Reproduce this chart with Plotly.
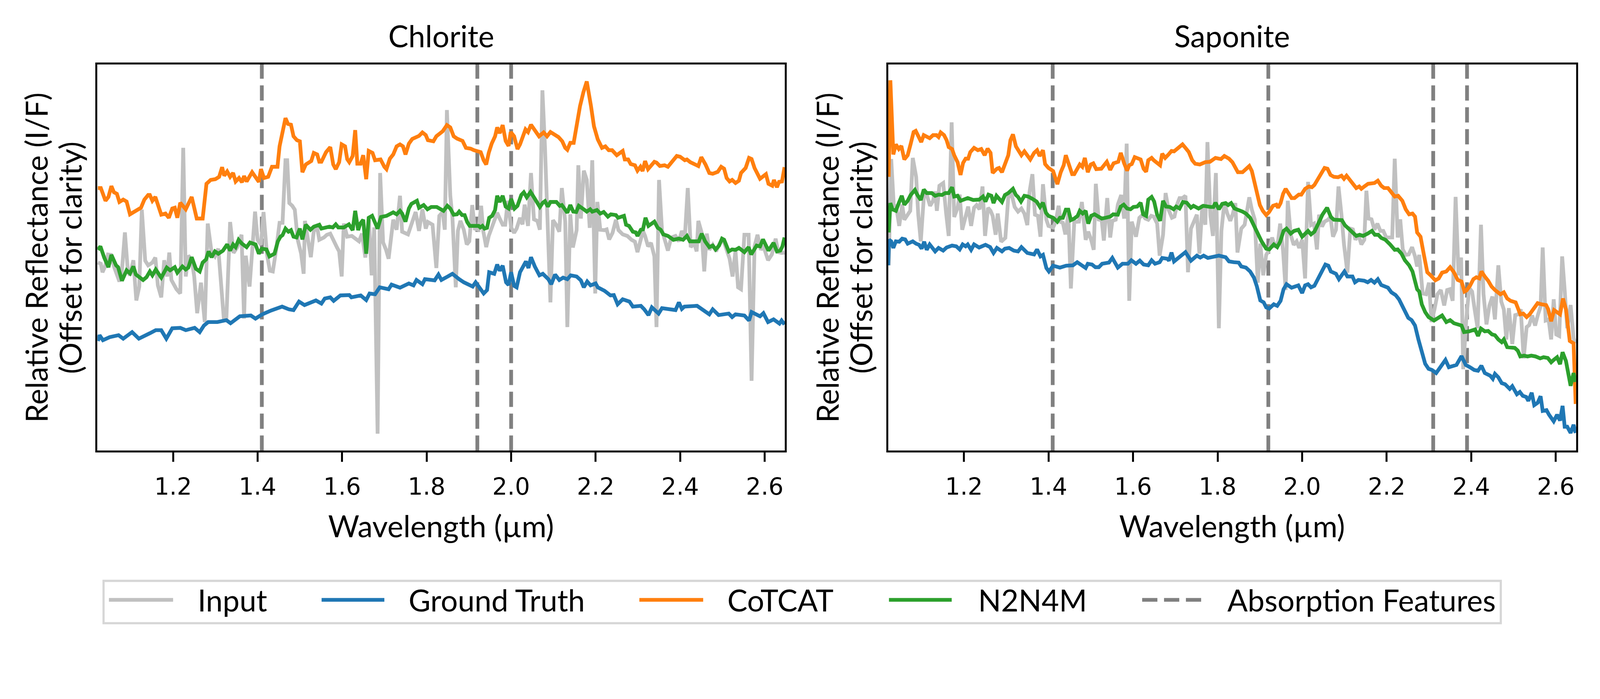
import plotly.graph_objects as go

# Wavelength (um), relative reflectance (offset, arbitrary units 0-100)
cl_input = [(1.022,48.7),(1.029,48.4),(1.033,46.2),(1.039,47.7),(1.046,50.8),(1.053,50.7),(1.061,47.4),(1.067,45.8),(1.073,43.8),(1.079,46.7),(1.086,56.5),(1.093,46.4),(1.098,45.4),(1.106,49.3),(1.113,38.9),(1.12,42.5),(1.126,62.4),(1.134,49.2),(1.141,48.0),(1.151,48.7),(1.158,50.0),(1.164,42.8),(1.172,39.7),(1.179,49.3),(1.186,45.1),(1.191,51.3),(1.196,44.2),(1.208,41.8),(1.217,40.7),(1.224,78.4),(1.23,45.1),(1.236,50.5),(1.244,49.5),(1.25,45.1),(1.257,35.6),(1.266,43.5),(1.275,33.3),(1.282,58.8),(1.291,51.4),(1.299,50.3),(1.307,52.3),(1.32,34.3),(1.326,34.0),(1.335,59.2),(1.343,51.2),(1.352,52.7),(1.362,55.9),(1.368,34.2),(1.372,50.5),(1.381,42.5),(1.394,61.9),(1.4,54.6),(1.408,53.3),(1.414,61.8),(1.422,51.0),(1.429,46.6),(1.436,46.4),(1.444,52.1),(1.452,59.0),(1.459,59.0),(1.466,75.2),(1.47,75.2),(1.475,64.1),(1.482,63.4),(1.488,62.4),(1.495,54.6),(1.503,51.0),(1.509,45.8),(1.512,59.5),(1.526,50.1),(1.533,56.9),(1.541,57.8),(1.546,54.6),(1.557,55.2),(1.564,55.9),(1.572,56.2),(1.58,54.2),(1.588,52.6),(1.593,51.6),(1.599,45.1),(1.604,58.8),(1.612,55.4),(1.623,55.6),(1.633,54.6),(1.64,54.2),(1.647,56.2),(1.655,50.0),(1.663,60.5),(1.67,45.4),(1.676,57.8),(1.684,4.4),(1.69,71.9),(1.697,53.9),(1.704,52.0),(1.71,49.7),(1.721,59.8),(1.729,57.2),(1.737,66.0),(1.742,56.7),(1.756,56.0),(1.764,58.5),(1.774,61.8),(1.782,56.9),(1.79,62.5),(1.798,57.5),(1.803,59.2),(1.814,58.5),(1.823,47.3),(1.83,60.8),(1.838,61.8),(1.843,57.2),(1.848,88.2),(1.856,66.0),(1.861,60.5),(1.869,42.3),(1.874,56.9),(1.88,59.5),(1.888,57.2),(1.895,53.4),(1.901,54.2),(1.908,63.6),(1.914,57.5),(1.923,57.2),(1.929,63.4),(1.934,56.9),(1.941,52.7),(1.947,55.6),(1.957,58.8),(1.967,61.6),(1.973,60.1),(1.98,58.5),(1.986,58.5),(1.992,64.7),(2.0,57.8),(2.007,56.4),(2.013,57.5),(2.021,60.3),(2.027,58.6),(2.032,63.7),(2.04,58.2),(2.047,71.9),(2.054,59.9),(2.062,59.5),(2.068,57.2),(2.074,93.3),(2.08,78.8),(2.087,60.1),(2.093,38.4),(2.099,59.7),(2.107,58.4),(2.114,56.7),(2.12,68.0),(2.128,59.3),(2.133,32.0),(2.14,61.2),(2.146,52.6),(2.155,57.1),(2.159,73.9),(2.165,60.1),(2.172,72.5),(2.179,70.1),(2.186,57.7),(2.192,75.2),(2.199,40.7),(2.204,64.4),(2.211,57.2),(2.221,57.1),(2.226,57.3),(2.232,54.7),(2.24,56.4),(2.248,59.8),(2.254,57.1),(2.264,56.0),(2.275,55.6),(2.285,54.6),(2.293,54.1),(2.299,51.4),(2.304,53.4),(2.312,56.9),(2.317,55.6),(2.324,52.9),(2.331,53.8),(2.339,50.3),(2.344,32.0),(2.35,70.1),(2.357,57.1),(2.371,51.8),(2.379,55.2),(2.389,55.6),(2.397,54.2),(2.404,56.9),(2.411,55.2),(2.418,68.0),(2.425,52.7),(2.433,53.8),(2.439,51.6),(2.443,59.5),(2.451,56.4),(2.457,46.4),(2.463,56.2),(2.469,52.0),(2.477,53.3),(2.485,51.6),(2.492,53.3),(2.501,54.9),(2.51,52.0),(2.517,49.7),(2.524,45.1),(2.531,51.8),(2.537,42.3),(2.544,41.8),(2.552,55.9),(2.562,55.9),(2.569,18.1),(2.576,52.9),(2.583,55.9),(2.591,52.0),(2.597,53.0),(2.608,49.3),(2.617,50.8),(2.626,54.9),(2.632,51.4),(2.64,51.2),(2.647,51.3)]

cl_truth = [(1.022,28.4),(1.026,29.9),(1.034,28.6),(1.05,29.4),(1.071,29.9),(1.082,29.0),(1.103,30.7),(1.119,29.0),(1.145,30.4),(1.159,31.2),(1.172,31.2),(1.184,29.0),(1.198,31.7),(1.217,31.8),(1.23,31.2),(1.251,31.8),(1.263,30.7),(1.273,32.4),(1.283,33.3),(1.305,33.3),(1.326,33.8),(1.336,33.0),(1.358,34.8),(1.384,35.0),(1.395,34.2),(1.411,35.3),(1.432,36.3),(1.458,37.3),(1.474,36.6),(1.485,36.4),(1.498,38.6),(1.511,37.7),(1.538,38.9),(1.551,38.1),(1.559,39.4),(1.572,39.7),(1.58,38.8),(1.596,40.2),(1.617,40.3),(1.622,39.7),(1.644,40.2),(1.657,39.0),(1.665,40.7),(1.678,40.5),(1.689,42.3),(1.71,41.8),(1.717,43.0),(1.737,42.2),(1.758,43.3),(1.769,42.8),(1.776,44.2),(1.79,43.1),(1.796,44.4),(1.819,44.1),(1.828,45.6),(1.835,44.2),(1.85,45.1),(1.861,45.8),(1.877,44.4),(1.888,43.6),(1.909,42.5),(1.916,43.6),(1.935,40.7),(1.943,41.6),(1.948,46.2),(1.96,45.8),(1.967,48.2),(1.973,46.6),(1.98,47.9),(1.988,43.6),(1.994,42.9),(2.0,46.2),(2.007,42.7),(2.013,42.3),(2.021,46.2),(2.035,49.0),(2.041,47.3),(2.047,50.1),(2.056,47.7),(2.067,45.4),(2.075,45.8),(2.088,44.4),(2.095,43.1),(2.104,45.6),(2.114,44.2),(2.123,44.8),(2.133,44.4),(2.141,45.4),(2.155,45.1),(2.165,44.1),(2.172,42.3),(2.18,43.8),(2.188,42.8),(2.2,43.3),(2.205,42.3),(2.221,41.4),(2.235,40.2),(2.243,40.3),(2.252,37.9),(2.264,39.2),(2.28,38.6),(2.288,37.3),(2.307,37.5),(2.315,36.6),(2.325,35.1),(2.333,37.1),(2.349,35.5),(2.357,36.9),(2.389,36.4),(2.397,38.4),(2.404,36.7),(2.41,37.3),(2.44,37.5),(2.456,36.3),(2.469,35.3),(2.477,36.6),(2.491,35.1),(2.515,35.5),(2.523,34.6),(2.531,35.3),(2.552,35.0),(2.563,33.7),(2.569,35.9),(2.589,34.8),(2.597,35.6),(2.608,33.3),(2.621,34.0),(2.635,32.9),(2.64,33.7),(2.647,32.7)]

cl_cotcat = [(1.022,68.0),(1.029,68.0),(1.04,64.7),(1.047,65.7),(1.054,68.5),(1.06,66.9),(1.067,66.5),(1.073,64.4),(1.082,65.0),(1.09,64.5),(1.098,61.2),(1.106,61.8),(1.124,62.9),(1.132,65.0),(1.141,66.2),(1.145,66.2),(1.151,64.7),(1.158,65.7),(1.172,61.1),(1.182,61.4),(1.19,60.3),(1.198,62.7),(1.204,62.9),(1.21,60.3),(1.217,64.2),(1.23,62.5),(1.244,65.7),(1.256,60.1),(1.27,60.1),(1.279,69.1),(1.289,70.1),(1.3,70.3),(1.309,70.9),(1.316,73.4),(1.321,71.2),(1.328,72.3),(1.335,70.9),(1.342,71.9),(1.348,69.7),(1.356,70.6),(1.363,69.5),(1.368,71.1),(1.374,69.7),(1.387,72.1),(1.403,69.6),(1.408,72.9),(1.415,70.6),(1.425,70.9),(1.434,73.5),(1.447,73.5),(1.452,78.8),(1.466,86.1),(1.472,84.6),(1.479,84.4),(1.485,81.4),(1.493,80.4),(1.5,80.1),(1.506,72.1),(1.514,74.1),(1.527,75.0),(1.533,77.1),(1.541,76.7),(1.546,74.8),(1.551,74.8),(1.562,77.3),(1.572,78.6),(1.579,74.1),(1.585,72.9),(1.593,74.7),(1.599,79.3),(1.607,78.8),(1.612,75.5),(1.617,74.7),(1.625,76.3),(1.631,83.0),(1.636,74.3),(1.644,74.3),(1.65,76.5),(1.657,70.3),(1.663,77.6),(1.672,77.1),(1.678,75.2),(1.691,75.4),(1.7,73.5),(1.705,72.9),(1.713,75.6),(1.721,76.7),(1.729,78.8),(1.737,79.3),(1.744,78.8),(1.75,76.7),(1.758,79.5),(1.766,80.7),(1.782,81.5),(1.79,82.4),(1.798,81.7),(1.803,80.4),(1.816,80.1),(1.823,81.4),(1.838,82.7),(1.848,84.3),(1.856,83.7),(1.864,81.4),(1.872,80.8),(1.885,80.2),(1.893,78.4),(1.904,78.2),(1.912,77.8),(1.928,77.3),(1.935,75.2),(1.941,74.1),(1.947,77.1),(1.954,79.5),(1.962,81.4),(1.967,83.7),(1.973,82.2),(1.98,84.3),(1.987,80.2),(1.994,78.9),(1.999,82.5),(2.007,81.4),(2.015,78.1),(2.021,79.3),(2.034,83.2),(2.04,82.5),(2.047,84.4),(2.054,83.2),(2.059,82.7),(2.066,81.4),(2.077,82.4),(2.085,81.4),(2.093,82.5),(2.104,81.8),(2.112,81.2),(2.121,80.1),(2.128,78.4),(2.133,77.9),(2.14,79.7),(2.148,79.7),(2.156,85.3),(2.163,89.2),(2.171,92.8),(2.179,95.6),(2.189,89.2),(2.196,84.0),(2.205,80.6),(2.215,78.4),(2.223,78.8),(2.231,77.8),(2.239,77.8),(2.25,76.5),(2.264,77.6),(2.269,75.4),(2.277,75.4),(2.283,74.2),(2.293,73.9),(2.299,72.5),(2.306,73.5),(2.311,72.4),(2.317,75.0),(2.324,72.9),(2.339,74.8),(2.344,74.6),(2.352,73.7),(2.363,73.9),(2.371,73.5),(2.381,74.8),(2.392,76.3),(2.4,76.1),(2.411,75.2),(2.416,75.4),(2.424,74.7),(2.443,73.7),(2.45,76.0),(2.46,74.1),(2.469,71.9),(2.477,71.7),(2.489,72.2),(2.497,73.5),(2.504,73.0),(2.51,70.6),(2.517,69.7),(2.523,70.1),(2.531,69.3),(2.539,69.9),(2.544,71.9),(2.555,73.2),(2.563,75.8),(2.569,75.5),(2.576,73.2),(2.589,70.4),(2.603,71.6),(2.609,69.1),(2.618,68.6),(2.622,70.1),(2.629,68.2),(2.634,69.6),(2.641,69.7),(2.647,73.4)]

cl_n2n4m = [(1.022,52.0),(1.028,52.9),(1.037,50.0),(1.047,47.5),(1.054,50.7),(1.065,48.0),(1.07,47.5),(1.079,44.0),(1.09,46.7),(1.098,45.9),(1.106,47.7),(1.112,45.6),(1.129,44.2),(1.137,44.9),(1.145,46.4),(1.151,45.4),(1.159,46.9),(1.172,44.8),(1.185,47.4),(1.193,46.7),(1.204,47.5),(1.21,46.1),(1.222,47.7),(1.23,46.9),(1.236,47.4),(1.244,50.1),(1.254,47.1),(1.263,46.4),(1.27,48.7),(1.278,49.5),(1.284,51.6),(1.291,50.1),(1.299,51.6),(1.307,51.0),(1.318,51.8),(1.328,53.4),(1.335,51.8),(1.342,53.4),(1.348,52.7),(1.355,54.6),(1.363,53.6),(1.374,52.7),(1.382,53.9),(1.395,53.4),(1.403,51.0),(1.41,52.3),(1.421,52.1),(1.428,50.3),(1.44,51.0),(1.448,54.2),(1.454,55.4),(1.459,55.8),(1.466,57.5),(1.473,56.7),(1.479,57.1),(1.485,55.4),(1.492,55.2),(1.5,57.5),(1.506,54.7),(1.514,58.5),(1.525,57.2),(1.533,58.0),(1.546,58.5),(1.551,57.5),(1.57,58.0),(1.578,57.8),(1.585,58.6),(1.591,57.8),(1.604,57.8),(1.616,58.6),(1.625,57.1),(1.631,62.1),(1.638,57.1),(1.643,58.8),(1.65,59.8),(1.657,51.0),(1.663,60.3),(1.671,60.8),(1.684,57.5),(1.692,60.5),(1.705,60.8),(1.712,61.2),(1.721,61.7),(1.729,61.2),(1.737,62.1),(1.742,61.4),(1.75,59.3),(1.758,62.7),(1.764,63.9),(1.777,64.7),(1.782,62.9),(1.793,63.6),(1.802,62.5),(1.811,63.1),(1.824,63.1),(1.84,62.1),(1.849,63.4),(1.856,62.7),(1.864,61.1),(1.872,61.2),(1.877,61.9),(1.884,61.0),(1.89,61.0),(1.896,59.2),(1.902,58.2),(1.923,58.2),(1.927,57.8),(1.932,58.2),(1.937,57.5),(1.943,57.7),(1.948,60.3),(1.955,60.8),(1.962,62.3),(1.967,66.0),(1.973,64.4),(1.98,66.0),(1.987,63.2),(1.994,62.7),(2.0,65.2),(2.008,62.7),(2.015,63.4),(2.024,66.2),(2.03,66.9),(2.037,65.6),(2.046,67.0),(2.054,65.6),(2.062,64.2),(2.068,63.1),(2.075,64.2),(2.08,64.6),(2.087,63.2),(2.093,64.4),(2.107,64.4),(2.115,63.4),(2.12,63.6),(2.128,62.3),(2.133,61.6),(2.14,63.6),(2.147,61.9),(2.154,61.8),(2.16,63.4),(2.173,62.4),(2.179,61.9),(2.187,62.5),(2.192,61.9),(2.203,62.3),(2.211,61.4),(2.219,61.8),(2.229,60.6),(2.236,61.2),(2.248,61.0),(2.253,60.3),(2.267,60.8),(2.272,58.5),(2.279,58.2),(2.288,56.7),(2.295,56.5),(2.299,55.6),(2.307,57.2),(2.312,57.3),(2.318,60.3),(2.325,58.2),(2.339,59.3),(2.347,57.7),(2.354,57.2),(2.36,56.0),(2.371,55.6),(2.384,54.6),(2.397,54.9),(2.407,54.6),(2.416,55.6),(2.423,54.2),(2.444,54.2),(2.451,56.2),(2.459,54.2),(2.469,52.7),(2.477,53.1),(2.484,52.1),(2.492,53.1),(2.499,54.9),(2.504,54.6),(2.515,51.6),(2.523,52.1),(2.531,52.0),(2.539,52.5),(2.552,51.4),(2.562,52.7),(2.568,50.8),(2.581,53.1),(2.589,52.9),(2.596,54.7),(2.609,51.8),(2.621,53.8),(2.629,51.6),(2.637,51.8),(2.642,52.9),(2.647,55.2)]

sp_input = [(1.022,48.0),(1.028,75.5),(1.034,63.7),(1.04,63.1),(1.047,58.2),(1.054,63.7),(1.059,59.8),(1.067,61.4),(1.073,62.1),(1.079,75.8),(1.087,70.9),(1.092,61.1),(1.098,54.2),(1.106,67.0),(1.112,66.3),(1.12,63.4),(1.127,64.7),(1.132,67.1),(1.136,62.1),(1.142,68.6),(1.151,69.3),(1.158,61.4),(1.164,55.6),(1.171,85.0),(1.177,60.5),(1.185,62.9),(1.19,66.3),(1.196,57.2),(1.204,60.8),(1.21,63.2),(1.217,58.2),(1.224,62.9),(1.23,63.6),(1.237,62.5),(1.244,68.4),(1.25,55.6),(1.257,62.9),(1.263,62.1),(1.268,60.8),(1.275,55.9),(1.28,61.4),(1.288,54.1),(1.298,55.1),(1.305,65.7),(1.313,66.3),(1.32,63.1),(1.328,61.9),(1.336,62.7),(1.343,61.4),(1.35,58.4),(1.355,66.9),(1.362,71.6),(1.368,61.1),(1.375,60.8),(1.381,55.4),(1.387,69.0),(1.395,59.8),(1.4,58.2),(1.411,57.8),(1.417,59.2),(1.424,63.4),(1.429,59.2),(1.434,59.0),(1.44,56.0),(1.447,61.4),(1.453,42.0),(1.461,59.2),(1.472,59.3),(1.479,64.4),(1.488,54.6),(1.494,56.7),(1.501,54.6),(1.507,52.0),(1.512,69.1),(1.519,59.5),(1.525,60.6),(1.531,54.4),(1.539,65.4),(1.546,55.2),(1.551,59.5),(1.559,59.8),(1.564,63.7),(1.572,66.2),(1.579,60.1),(1.585,79.5),(1.591,38.8),(1.597,59.3),(1.607,55.4),(1.615,60.3),(1.623,61.1),(1.629,60.1),(1.636,59.8),(1.643,60.8),(1.649,60.6),(1.657,58.8),(1.663,50.5),(1.671,55.9),(1.677,66.7),(1.684,62.4),(1.692,60.3),(1.698,60.6),(1.704,63.7),(1.71,65.4),(1.717,65.4),(1.724,66.0),(1.73,46.2),(1.737,57.5),(1.744,59.5),(1.751,61.1),(1.757,51.0),(1.764,63.7),(1.771,58.5),(1.776,79.9),(1.783,60.8),(1.789,55.6),(1.796,71.9),(1.803,31.7),(1.809,56.9),(1.816,64.2),(1.823,61.4),(1.83,59.5),(1.836,61.3),(1.842,64.1),(1.847,51.3),(1.856,57.5),(1.864,58.5),(1.875,65.6),(1.881,62.4),(1.888,59.8),(1.895,43.5),(1.901,53.6),(1.908,45.4),(1.915,50.7),(1.922,52.0),(1.929,55.2),(1.936,52.6),(1.943,54.2),(1.948,58.8),(1.955,51.6),(1.961,41.6),(1.966,64.7),(1.973,55.9),(1.98,53.3),(1.987,54.2),(1.993,52.5),(2.0,54.6),(2.007,44.6),(2.014,69.6),(2.021,58.4),(2.028,58.8),(2.035,52.1),(2.04,61.1),(2.047,58.0),(2.053,59.3),(2.06,59.7),(2.067,60.5),(2.073,55.4),(2.08,57.2),(2.086,68.4),(2.093,61.1),(2.099,53.4),(2.107,46.1),(2.114,57.5),(2.12,57.3),(2.126,54.6),(2.133,56.0),(2.14,53.4),(2.147,54.6),(2.152,67.3),(2.157,60.1),(2.164,59.9),(2.171,57.2),(2.178,58.8),(2.185,56.9),(2.192,56.9),(2.199,55.2),(2.206,55.1),(2.213,55.2),(2.219,75.6),(2.226,55.2),(2.232,59.9),(2.238,52.1),(2.245,50.7),(2.252,50.8),(2.26,52.7),(2.267,50.3),(2.272,47.7),(2.277,50.7),(2.285,40.7),(2.293,40.5),(2.3,43.5),(2.306,33.3),(2.313,36.6),(2.32,40.5),(2.328,41.6),(2.336,37.6),(2.343,41.6),(2.349,41.8),(2.356,38.8),(2.363,65.7),(2.37,45.4),(2.376,50.0),(2.381,21.1),(2.388,33.7),(2.395,42.2),(2.402,41.2),(2.408,36.6),(2.415,31.7),(2.423,58.5),(2.429,40.5),(2.436,32.7),(2.443,37.6),(2.45,39.9),(2.456,34.0),(2.464,48.0),(2.471,38.6),(2.477,36.6),(2.483,28.8),(2.489,36.9),(2.497,27.6),(2.504,35.1),(2.511,35.3),(2.517,36.6),(2.524,23.9),(2.531,32.0),(2.537,32.5),(2.544,35.0),(2.551,32.4),(2.558,35.3),(2.564,37.3),(2.569,52.6),(2.576,33.7),(2.583,34.0),(2.589,28.8),(2.595,39.2),(2.601,30.1),(2.608,29.7),(2.615,50.3),(2.621,41.5),(2.627,31.7),(2.635,37.7),(2.642,29.1),(2.647,27.8)]

sp_truth = [(1.021,48.0),(1.023,54.6),(1.028,54.2),(1.033,52.5),(1.039,54.2),(1.047,54.1),(1.054,54.9),(1.061,54.7),(1.067,53.6),(1.079,54.2),(1.087,53.6),(1.094,53.3),(1.1,52.3),(1.106,54.1),(1.112,52.0),(1.119,53.4),(1.132,51.6),(1.14,52.5),(1.151,51.8),(1.159,52.6),(1.172,53.1),(1.182,52.9),(1.19,52.1),(1.197,53.4),(1.204,52.9),(1.209,53.4),(1.217,52.0),(1.224,53.4),(1.236,52.6),(1.251,53.3),(1.262,52.7),(1.27,51.2),(1.278,52.5),(1.29,51.6),(1.297,52.3),(1.307,52.5),(1.318,51.8),(1.328,51.6),(1.336,52.7),(1.35,51.2),(1.366,50.8),(1.373,52.1),(1.381,50.3),(1.387,50.7),(1.395,47.3),(1.401,46.4),(1.411,47.9),(1.427,47.4),(1.442,47.9),(1.458,48.0),(1.468,48.8),(1.482,47.7),(1.488,47.3),(1.493,48.4),(1.503,48.2),(1.511,47.5),(1.519,47.5),(1.527,48.4),(1.543,48.7),(1.551,49.9),(1.564,47.4),(1.575,48.4),(1.588,48.4),(1.596,49.3),(1.607,48.4),(1.616,49.2),(1.625,48.2),(1.636,48.0),(1.644,49.3),(1.652,48.4),(1.663,48.8),(1.669,49.9),(1.681,49.7),(1.685,49.2),(1.691,51.3),(1.697,49.0),(1.708,50.0),(1.716,50.8),(1.724,51.4),(1.737,49.2),(1.751,50.5),(1.759,50.0),(1.767,50.5),(1.777,49.9),(1.803,50.5),(1.819,50.1),(1.827,49.0),(1.838,48.8),(1.85,48.7),(1.856,47.7),(1.867,47.4),(1.877,46.4),(1.886,44.8),(1.893,42.5),(1.901,38.9),(1.909,38.4),(1.915,37.1),(1.922,36.8),(1.933,37.9),(1.941,37.5),(1.949,38.8),(1.956,41.8),(1.963,43.1),(1.975,42.2),(1.991,42.8),(2.0,40.8),(2.007,42.8),(2.014,43.1),(2.021,42.3),(2.029,42.7),(2.036,44.1),(2.045,45.8),(2.055,48.2),(2.062,47.9),(2.068,46.4),(2.08,45.8),(2.087,44.4),(2.1,46.4),(2.107,45.1),(2.119,45.1),(2.125,43.6),(2.133,44.2),(2.147,44.0),(2.155,43.6),(2.163,44.2),(2.171,43.5),(2.179,44.4),(2.187,42.9),(2.195,42.5),(2.203,42.2),(2.211,41.0),(2.221,40.3),(2.229,39.2),(2.237,37.5),(2.244,35.5),(2.251,34.4),(2.259,33.8),(2.267,32.4),(2.275,28.8),(2.283,25.2),(2.291,22.5),(2.299,21.2),(2.307,20.9),(2.317,20.1),(2.328,21.9),(2.339,23.5),(2.347,21.6),(2.355,21.9),(2.365,22.2),(2.377,24.5),(2.387,22.2),(2.397,21.6),(2.407,20.9),(2.416,20.7),(2.424,22.0),(2.432,20.1),(2.445,19.4),(2.451,18.6),(2.456,19.9),(2.464,19.0),(2.472,17.5),(2.48,17.2),(2.491,16.0),(2.497,16.7),(2.508,14.6),(2.515,15.2),(2.522,14.2),(2.53,13.9),(2.535,12.9),(2.543,15.0),(2.549,11.8),(2.557,12.4),(2.564,14.1),(2.569,10.3),(2.578,10.5),(2.584,9.3),(2.595,7.6),(2.603,9.3),(2.61,7.8),(2.616,11.6),(2.621,6.2),(2.627,6.2),(2.635,4.6),(2.642,6.7),(2.647,4.6)]

sp_cotcat = [(1.022,70.9),(1.026,95.9),(1.033,76.7),(1.039,79.3),(1.046,78.1),(1.052,78.9),(1.059,75.4),(1.067,76.5),(1.074,79.4),(1.081,82.5),(1.086,82.8),(1.092,81.5),(1.099,79.9),(1.105,81.7),(1.114,81.0),(1.119,80.9),(1.127,81.7),(1.135,81.7),(1.14,81.2),(1.145,82.4),(1.153,81.7),(1.159,80.4),(1.164,78.6),(1.172,78.1),(1.177,76.5),(1.185,74.7),(1.192,71.4),(1.198,74.5),(1.204,75.6),(1.21,75.6),(1.215,77.3),(1.224,78.4),(1.233,77.8),(1.241,78.1),(1.249,76.5),(1.256,78.2),(1.263,77.1),(1.268,71.9),(1.278,73.0),(1.283,73.2),(1.29,72.1),(1.297,73.9),(1.305,76.5),(1.31,80.4),(1.316,81.9),(1.323,78.8),(1.33,77.5),(1.336,76.5),(1.343,77.5),(1.35,76.3),(1.357,75.4),(1.366,77.1),(1.373,77.8),(1.379,76.3),(1.387,77.8),(1.392,74.2),(1.4,73.2),(1.411,72.4),(1.421,69.0),(1.429,72.1),(1.436,73.9),(1.441,76.5),(1.449,73.5),(1.456,71.6),(1.461,71.6),(1.469,72.9),(1.474,74.1),(1.48,73.5),(1.486,75.8),(1.493,72.1),(1.5,74.1),(1.506,74.4),(1.513,72.9),(1.525,73.0),(1.53,73.7),(1.538,74.8),(1.546,72.7),(1.554,74.4),(1.565,74.8),(1.571,77.1),(1.579,74.4),(1.586,72.5),(1.591,73.9),(1.597,74.2),(1.604,76.0),(1.611,75.6),(1.618,75.4),(1.625,73.0),(1.631,72.2),(1.636,75.2),(1.644,75.8),(1.649,75.2),(1.657,74.5),(1.664,73.9),(1.669,76.9),(1.676,75.8),(1.684,76.7),(1.691,77.6),(1.697,77.5),(1.705,78.2),(1.717,79.3),(1.724,78.4),(1.732,77.3),(1.74,75.2),(1.747,74.3),(1.758,74.1),(1.771,74.7),(1.782,74.8),(1.787,75.2),(1.795,75.8),(1.808,75.5),(1.816,76.3),(1.827,75.6),(1.835,74.7),(1.848,72.1),(1.859,72.1),(1.867,72.9),(1.875,73.7),(1.881,72.4),(1.888,69.1),(1.895,66.0),(1.9,63.6),(1.907,62.1),(1.915,61.0),(1.922,61.8),(1.931,63.4),(1.939,63.7),(1.943,62.9),(1.949,64.1),(1.955,66.5),(1.961,67.8),(1.968,66.7),(1.975,65.4),(1.982,65.4),(1.992,66.3),(1.998,66.3),(2.007,67.8),(2.016,68.4),(2.023,68.2),(2.029,68.8),(2.036,70.1),(2.042,70.9),(2.049,72.5),(2.053,73.2),(2.06,73.0),(2.067,71.4),(2.075,70.9),(2.085,70.8),(2.093,71.2),(2.099,70.4),(2.105,71.2),(2.112,70.1),(2.119,69.1),(2.128,68.0),(2.135,68.4),(2.14,67.8),(2.147,68.4),(2.156,69.1),(2.171,69.3),(2.179,69.9),(2.187,68.6),(2.194,68.0),(2.203,68.0),(2.211,67.0),(2.219,65.8),(2.227,66.0),(2.237,64.7),(2.245,62.5),(2.253,61.2),(2.261,61.4),(2.267,60.6),(2.272,56.5),(2.28,55.4),(2.288,50.7),(2.296,46.2),(2.304,45.4),(2.315,44.1),(2.323,44.6),(2.331,46.1),(2.341,46.4),(2.35,47.5),(2.359,46.2),(2.368,44.2),(2.377,43.8),(2.384,41.2),(2.389,41.5),(2.397,42.7),(2.405,44.4),(2.412,44.9),(2.419,44.6),(2.424,46.4),(2.432,45.1),(2.44,44.0),(2.448,42.5),(2.456,41.6),(2.469,40.5),(2.477,41.0),(2.485,39.4),(2.493,38.8),(2.505,38.4),(2.511,36.8),(2.516,35.3),(2.523,35.5),(2.531,34.6),(2.538,35.3),(2.547,36.6),(2.557,38.2),(2.566,37.9),(2.577,37.7),(2.582,36.6),(2.589,33.5),(2.596,36.4),(2.603,35.8),(2.61,35.3),(2.617,39.4),(2.624,36.6),(2.633,28.4),(2.642,27.8),(2.647,12.1)]

sp_n2n4m = [(1.022,56.5),(1.026,64.1),(1.031,62.5),(1.039,62.1),(1.046,64.1),(1.053,66.0),(1.059,63.7),(1.067,64.7),(1.074,66.2),(1.084,67.5),(1.09,66.2),(1.098,64.9),(1.105,67.6),(1.112,66.7),(1.124,66.7),(1.132,66.0),(1.14,66.3),(1.148,66.2),(1.156,66.7),(1.164,66.7),(1.172,68.2),(1.177,65.8),(1.185,66.0),(1.192,64.7),(1.209,65.4),(1.222,64.9),(1.236,65.0),(1.245,65.8),(1.251,64.5),(1.258,66.3),(1.265,66.0),(1.27,64.1),(1.277,66.0),(1.283,65.4),(1.29,64.4),(1.297,66.2),(1.305,66.7),(1.316,67.8),(1.323,66.2),(1.328,65.7),(1.335,64.5),(1.343,66.0),(1.352,65.8),(1.362,65.2),(1.372,64.5),(1.38,63.1),(1.387,64.2),(1.394,61.6),(1.4,60.8),(1.411,60.3),(1.421,59.3),(1.427,60.3),(1.434,60.3),(1.441,62.4),(1.447,62.4),(1.453,59.7),(1.461,60.1),(1.469,60.8),(1.474,62.1),(1.481,61.4),(1.488,62.1),(1.494,58.8),(1.501,60.8),(1.509,61.2),(1.517,60.8),(1.526,60.1),(1.535,60.3),(1.546,60.6),(1.553,61.2),(1.559,61.1),(1.564,61.1),(1.571,63.2),(1.578,63.7),(1.586,62.7),(1.594,62.5),(1.601,63.1),(1.61,63.2),(1.618,64.2),(1.624,61.2),(1.631,60.8),(1.636,65.0),(1.644,65.7),(1.65,64.5),(1.657,61.1),(1.664,59.5),(1.671,64.7),(1.678,63.2),(1.687,63.1),(1.696,62.5),(1.702,63.2),(1.71,62.7),(1.718,64.4),(1.727,64.2),(1.737,62.9),(1.743,63.4),(1.755,62.7),(1.766,63.4),(1.784,63.1),(1.79,63.1),(1.795,64.2),(1.803,62.5),(1.811,63.9),(1.819,64.1),(1.825,63.6),(1.832,64.1),(1.84,62.7),(1.848,62.4),(1.859,61.9),(1.867,61.4),(1.877,60.3),(1.885,58.5),(1.896,56.0),(1.904,54.2),(1.915,52.3),(1.922,52.1),(1.933,53.4),(1.941,52.7),(1.948,54.1),(1.956,56.9),(1.963,57.5),(1.973,56.2),(1.981,56.9),(1.991,57.2),(2.0,55.4),(2.008,56.2),(2.014,56.9),(2.021,56.0),(2.029,56.7),(2.037,58.5),(2.048,61.1),(2.059,62.9),(2.068,60.5),(2.075,59.8),(2.085,59.7),(2.094,59.7),(2.101,58.4),(2.115,57.1),(2.128,55.6),(2.136,55.9),(2.144,55.6),(2.155,56.2),(2.165,56.9),(2.172,55.9),(2.18,55.9),(2.187,55.1),(2.197,54.6),(2.208,53.4),(2.219,52.0),(2.226,52.1),(2.235,51.0),(2.243,49.3),(2.253,48.0),(2.261,46.4),(2.267,44.2),(2.272,41.8),(2.277,41.2),(2.283,37.9),(2.291,35.9),(2.299,34.6),(2.312,33.7),(2.323,34.3),(2.331,35.0),(2.341,33.3),(2.35,33.8),(2.359,33.0),(2.371,32.5),(2.377,32.4),(2.383,30.7),(2.395,30.9),(2.409,31.4),(2.416,29.7),(2.423,31.6),(2.432,30.9),(2.44,31.0),(2.449,30.1),(2.456,29.9),(2.464,28.8),(2.472,28.1),(2.477,28.8),(2.485,26.8),(2.493,26.6),(2.503,26.6),(2.51,25.9),(2.516,24.4),(2.525,24.6),(2.533,24.4),(2.542,24.6),(2.552,24.4),(2.563,23.9),(2.571,24.2),(2.581,24.0),(2.589,22.9),(2.595,23.5),(2.603,24.2),(2.61,22.4),(2.616,25.5),(2.624,23.2),(2.629,19.9),(2.635,16.8),(2.642,20.1),(2.647,17.8)]

# absorption features (um)
cl_features = [1.41, 1.92, 2.00]
sp_features = [1.41, 1.92, 2.31, 2.39]

panel_titles = ['Chlorite', 'Saponite']
tick_vals = [1.2, 1.4, 1.6, 1.8, 2.0, 2.2, 2.4, 2.6]
tick_text = ['1.2', '1.4', '1.6', '1.8', '2.0', '2.2', '2.4', '2.6']
legend_names = ['Input', 'Ground Truth', 'CoTCAT', 'N2N4M', 'Absorption Features']

colors = {'Input': '#c0c0c0', 'Ground Truth': '#1f77b4', 'CoTCAT': '#ff7f0e',
          'N2N4M': '#2ca02c', 'Absorption Features': '#808080'}

# positions are given on the reference's 4445x1789 pixel grid; the page is drawn
# about 1.09x larger than its css size, so sizes in px are scaled down by S
W, H = 4445, 1789
S = 0.918
FONT = 'Lato'
LW = 10.5 * S
DASH = '%dpx,%dpx' % (round(42 * S), round(19 * S))


def px(x):
    return x / W


def py(y):
    return 1 - y / H


panels = [
    dict(xa='x', ya='y', feats=cl_features,
         series=[('Input', cl_input), ('Ground Truth', cl_truth), ('CoTCAT', cl_cotcat), ('N2N4M', cl_n2n4m)],
         left=263, right=2180),
    dict(xa='x2', ya='y2', feats=sp_features,
         series=[('Input', sp_input), ('Ground Truth', sp_truth), ('CoTCAT', sp_cotcat), ('N2N4M', sp_n2n4m)],
         left=2468, right=4386),
]
top, bottom = 171, 1248

fig = go.Figure()

for p in panels:
    for f in p['feats']:
        fig.add_trace(go.Scatter(x=[f, f], y=[0, 100], mode='lines', xaxis=p['xa'], yaxis=p['ya'],
                                 line=dict(color=colors['Absorption Features'], width=LW, dash=DASH),
                                 showlegend=False, hoverinfo='skip'))
    for name, pts in p['series']:
        fig.add_trace(go.Scatter(x=[a for a, b in pts], y=[b for a, b in pts], mode='lines',
                                 xaxis=p['xa'], yaxis=p['ya'], name=name,
                                 line=dict(color=colors[name], width=LW), showlegend=False))

axis_common = dict(showline=True, linecolor='black', linewidth=5.5 * S, mirror=True, showgrid=False, zeroline=False)
xcommon = dict(axis_common, range=[1.021, 2.648], tickvals=tick_vals, ticktext=tick_text, ticks='outside',
               ticklen=26 * S, tickwidth=5.5 * S, tickcolor='black',
               tickfont=dict(family='DejaVu Sans', size=66 * S, color='black'),
               ticklabelstandoff=round(12 * S))
ycommon = dict(axis_common, range=[0, 100], showticklabels=False, ticks='')

TXT = dict(family=FONT, size=84 * S, color='black')
annotations = []
for i, p in enumerate(panels):
    cx = (p['left'] + p['right']) / 2
    annotations.append(dict(text=panel_titles[i], x=px(cx), y=py(90), xref='paper', yref='paper',
                            showarrow=False, xanchor='center', yanchor='middle', font=TXT))
    annotations.append(dict(text='Wavelength (µm)', x=px(cx), y=py(1457), xref='paper', yref='paper',
                            showarrow=False, xanchor='center', yanchor='middle', font=TXT))
    cy = (top + bottom) / 2
    for off, line in [(171, 'Relative Reflectance (I/F)'), (77, '(Offset for clarity)')]:
        annotations.append(dict(text=line, x=px(p['left'] - off), y=py(cy), xref='paper', yref='paper',
                                showarrow=False, xanchor='center', yanchor='middle', textangle=-90,
                                font=TXT))

# legend drawn by hand so the handles have matplotlib's length
shapes = [dict(type='rect', xref='paper', yref='paper', x0=px(280), x1=px(4176), y0=py(1729), y1=py(1611),
               line=dict(color='#d6d6d6', width=6 * S), fillcolor='white')]
legend_x = [(295, 474, 540), (888, 1063, 1128), (1774, 1952, 2017), (2470, 2645, 2716), (3176, 3343, 3411)]
ly = 1664
for name, (x0, x1, tx) in zip(legend_names, legend_x):
    shapes.append(dict(type='line', xref='paper', yref='paper', x0=px(x0), x1=px(x1), y0=py(ly), y1=py(ly),
                       line=dict(color=colors[name], width=LW,
                                 dash=DASH if name == 'Absorption Features' else 'solid')))
    annotations.append(dict(text=name, x=px(tx), y=py(ly), xref='paper', yref='paper', showarrow=False,
                            xanchor='left', yanchor='middle', font=TXT))

fig.update_layout(
    width=round(W * S), height=round(H * S),
    margin=dict(l=0, r=0, t=0, b=0),
    paper_bgcolor='white', plot_bgcolor='white',
    showlegend=False,
    xaxis=dict(xcommon, domain=[px(263), px(2180)], anchor='y'),
    yaxis=dict(ycommon, domain=[py(bottom), py(top)], anchor='x'),
    xaxis2=dict(xcommon, domain=[px(2468), px(4386)], anchor='y2'),
    yaxis2=dict(ycommon, domain=[py(bottom), py(top)], anchor='x2'),
    annotations=annotations,
    shapes=shapes,
)

fig.write_html('out.html')
